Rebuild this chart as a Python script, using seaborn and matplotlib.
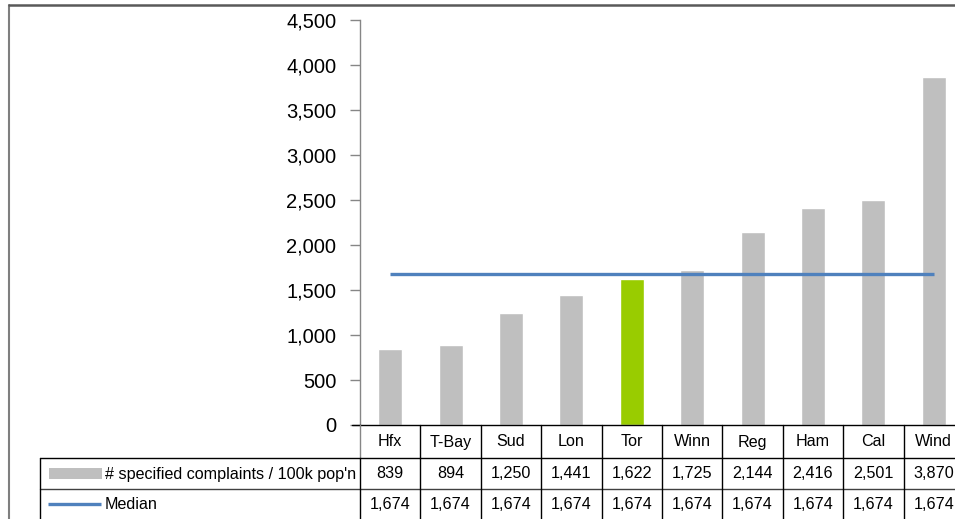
import matplotlib
matplotlib.use("Agg")
import matplotlib.pyplot as plt
from matplotlib.patches import Rectangle
import seaborn as sns

cities = ["Hfx", "T-Bay", "Sud", "Lon", "Tor", "Winn", "Reg", "Ham", "Cal", "Wind"]
complaints = [839, 894, 1250, 1441, 1622, 1725, 2144, 2416, 2501, 3870]
median = [1674] * len(cities)
highlight = "Tor"
series_labels = ["# specified complaints / 100k pop'n", "Median"]

BAR_GREY = "#BFBFBF"
BAR_GREEN = "#99CC00"
LINE_BLUE = "#4F81BD"

sns.set_theme(style="white")
plt.rcParams["font.family"] = ["Liberation Sans", "DejaVu Sans"]

W, H = 955, 519
fig = plt.figure(figsize=(W / 100, H / 100), dpi=100)

# plot area in pixel terms (extends slightly past the right edge)
ax = fig.add_axes([360 / W, (H - 425) / H, 604 / W, 405 / H])
palette = {c: (BAR_GREEN if c == highlight else BAR_GREY) for c in cities}
sns.barplot(x=cities, y=complaints, hue=cities, palette=palette, width=0.4,
            legend=False, ax=ax, saturation=1)
ax.plot(range(len(cities)), median, color=LINE_BLUE, lw=2.4, solid_capstyle="butt", zorder=3)
ax.set_xlim(-0.5, len(cities) - 0.5)
ax.set_ylim(0, 4500)
ax.set_yticks(range(0, 4501, 500))
ax.set_yticklabels([f"{v:,}" for v in range(0, 4501, 500)], fontsize=14.5, color="black")
ax.set_xticks([])
ax.tick_params(axis="y", direction="out", length=7, width=1, color="#868686", left=True, pad=10)
for side in ["top", "right", "bottom"]:
    ax.spines[side].set_visible(False)
ax.spines["left"].set_color("#868686")
ax.spines["left"].set_linewidth(1)
ax.set_facecolor("none")

# overlay in figure pixels for the data table and frame
ov = fig.add_axes([0, 0, 1, 1])
ov.set_xlim(0, W)
ov.set_ylim(H, 0)
ov.axis("off")
ov.patch.set_alpha(0)

fig.canvas.draw()
def col_px(i):
    return ax.transData.transform((i - 0.5, 0))[0]

bounds = [col_px(i) for i in range(len(cities) + 1)]
centers = [(bounds[i] + bounds[i + 1]) / 2 for i in range(len(cities))]

TFS = 11.6

# outer frame
ov.plot([9, 9], [5, H], color="#7F7F7F", lw=1.5)
ov.plot([9, W], [5, 5], color="#595959", lw=1.8)

# header row (categories)
ov.plot([352, bounds[-1]], [425, 425], color="black", lw=1)
ov.plot([bounds[0], bounds[0]], [425, 458], color="#868686", lw=1)
for b in bounds[1:]:
    ov.plot([b, b], [425, 458], color="black", lw=1)
for c, x in zip(cities, centers):
    ov.text(x, 442, c, ha="center", va="center", fontsize=TFS, color="black")

# data rows
ov.plot([40, bounds[-1]], [458, 458], color="black", lw=1)
ov.plot([40, bounds[-1]], [489, 489], color="#404040", lw=1)
for b in [40] + bounds:
    ov.plot([b, b], [458, H], color="black", lw=1)

for v, x in zip(complaints, centers):
    ov.text(x, 474, f"{v:,}", ha="center", va="center", fontsize=TFS, color="black")
for v, x in zip(median, centers):
    ov.text(x, 504.5, f"{v:,}", ha="center", va="center", fontsize=TFS, color="black")

# legend keys inside the table
ov.add_patch(Rectangle((49, 468), 53, 11, facecolor=BAR_GREY, edgecolor="none"))
ov.plot([48, 101], [504, 504], color=LINE_BLUE, lw=2.4, solid_capstyle="butt")
ov.text(105, 474, series_labels[0], ha="left", va="center", fontsize=TFS, color="black")
ov.text(105, 504.5, series_labels[1], ha="left", va="center", fontsize=TFS, color="black")

fig.savefig("out.png", dpi=100)
